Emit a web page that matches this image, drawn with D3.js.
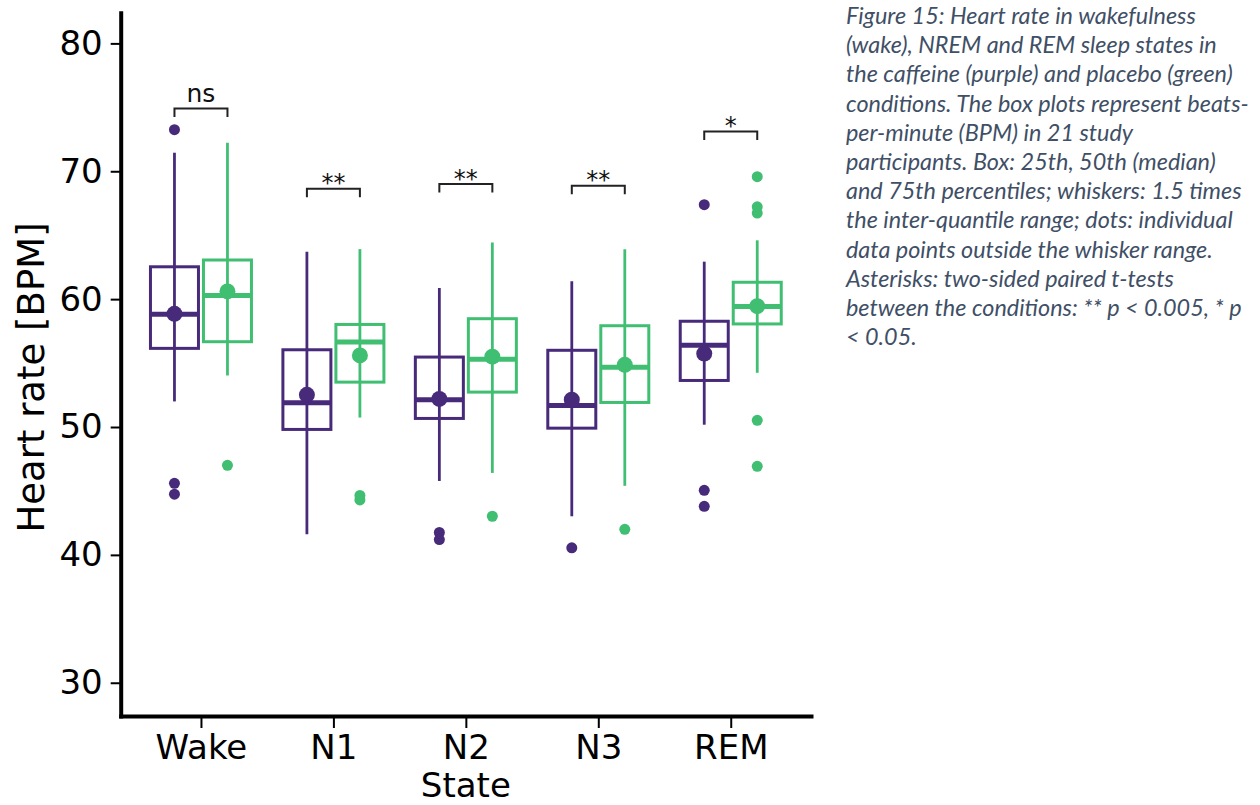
<!DOCTYPE html>
<html>
<head>
<meta charset="utf-8">
<script src="https://cdn.jsdelivr.net/npm/d3@7"></script>
<style>
  html, body { margin: 0; padding: 0; background: #fff; }
  svg { display: block; }
</style>
</head>
<body>
<svg id="chart" width="1260" height="805"></svg>
<script>
// Sleep / wake states on the x axis
const states = ["Wake", "N1", "N2", "N3", "REM"];

// Caffeine condition: box-plot statistics per state (BPM)
const caffeineQ1     = [56.15, 49.81, 50.67, 49.91, 53.64];
const caffeineMedian = [58.81, 51.90, 52.14, 51.69, 56.40];
const caffeineQ3     = [62.53, 56.04, 55.47, 56.00, 58.27];
const caffeineLow    = [52.00, 41.62, 45.78, 43.02, 50.18];
const caffeineHigh   = [71.45, 63.71, 60.87, 61.40, 62.93];
const caffeineMean   = [58.85, 52.52, 52.20, 52.13, 55.74];
const caffeineOutliers = [[73.25, 45.60, 44.75], [], [41.75, 41.20], [40.55], [67.39, 45.05, 43.80]];

// Placebo condition: box-plot statistics per state (BPM)
const placeboQ1     = [56.67, 53.51, 52.73, 51.92, 58.06];
const placeboMedian = [60.29, 56.64, 55.29, 54.68, 59.43];
const placeboQ3     = [63.06, 58.02, 58.47, 57.92, 61.32];
const placeboLow    = [54.03, 50.74, 46.41, 45.40, 54.24];
const placeboHigh   = [72.23, 63.91, 64.43, 63.90, 64.60];
const placeboMean   = [60.60, 55.60, 55.50, 54.86, 59.45];
const placeboOutliers = [[47.00], [44.30, 44.65], [43.02], [42.00], [69.58, 67.22, 66.73, 50.52, 46.93]];

// Paired t-test annotations: label and bracket height (BPM)
const sigLabels = ["ns", "**", "**", "**", "*"];
const sigLevels = [74.9, 68.63, 69.0, 68.86, 73.11];

const yTicks = [30, 40, 50, 60, 70, 80];

const captionLines = [
  "Figure 15: Heart rate in wakefulness",
  "(wake), NREM and REM sleep states in",
  "the caffeine (purple) and placebo (green)",
  "conditions. The box plots represent beats-",
  "per-minute (BPM) in 21 study",
  "participants. Box: 25th, 50th (median)",
  "and 75th percentiles; whiskers: 1.5 times",
  "the inter-quantile range; dots: individual",
  "data points outside the whisker range.",
  "Asterisks: two-sided paired t-tests",
  "between the conditions: ** p < 0.005, * p",
  "< 0.05."
];

const conditions = [
  { name: "caffeine", color: "#472a7a", offset: -26.5,
    q1: caffeineQ1, med: caffeineMedian, q3: caffeineQ3, lo: caffeineLow, hi: caffeineHigh,
    mean: caffeineMean, out: caffeineOutliers },
  { name: "placebo", color: "#40bf72", offset: 26.5,
    q1: placeboQ1, med: placeboMedian, q3: placeboQ3, lo: placeboLow, hi: placeboHigh,
    mean: placeboMean, out: placeboOutliers }
];

const svg = d3.select("#chart");
const font = "'DejaVu Sans', sans-serif";

const plotLeft = 120.7, plotRight = 811, plotTop = 12.7, plotBottom = 716;

const x = d3.scalePoint().domain(states).range([plotLeft, plotRight]).padding(0.606);
const y = d3.scaleLinear().domain([27.4, 82.4]).range([plotBottom, plotTop]);

const boxW = 48;

// Boxes, whiskers, medians, means and outliers
conditions.forEach(c => {
  const g = svg.append("g").attr("class", "cond-" + c.name);
  states.forEach((s, i) => {
    const cx = x(s) + c.offset;
    // whisker spans the full range, through the box
    g.append("line")
      .attr("x1", cx).attr("x2", cx)
      .attr("y1", y(c.lo[i])).attr("y2", y(c.hi[i]))
      .attr("stroke", c.color).attr("stroke-width", 2.8);
    g.append("rect")
      .attr("x", cx - boxW / 2).attr("width", boxW)
      .attr("y", y(c.q3[i])).attr("height", y(c.q1[i]) - y(c.q3[i]))
      .attr("fill", "none").attr("stroke", c.color).attr("stroke-width", 3);
    g.append("line")
      .attr("x1", cx - boxW / 2).attr("x2", cx + boxW / 2)
      .attr("y1", y(c.med[i])).attr("y2", y(c.med[i]))
      .attr("stroke", c.color).attr("stroke-width", 5);
    g.append("circle")
      .attr("cx", cx).attr("cy", y(c.mean[i])).attr("r", 8)
      .attr("fill", c.color);
    c.out[i].forEach(v => {
      g.append("circle")
        .attr("cx", cx).attr("cy", y(v)).attr("r", 5.5)
        .attr("fill", c.color);
    });
  });
});

// Significance brackets
const sig = svg.append("g").attr("class", "significance");
states.forEach((s, i) => {
  const x1 = x(s) + conditions[0].offset, x2 = x(s) + conditions[1].offset;
  const yt = y(sigLevels[i]);
  sig.append("path")
    .attr("d", `M${x1},${yt + 8.5}V${yt}H${x2}V${yt + 8.5}`)
    .attr("fill", "none").attr("stroke", "#222").attr("stroke-width", 2);
  const isNs = sigLabels[i] === "ns";
  sig.append("text")
    .attr("x", (x1 + x2) / 2)
    .attr("y", isNs ? yt - 6.5 : yt + 2.5)
    .attr("text-anchor", "middle")
    .attr("font-family", font)
    .attr("font-size", isNs ? 25 : 24)
    .attr("fill", "#111")
    .text(sigLabels[i]);
});

// Axes
const yAxis = svg.append("g")
  .attr("transform", `translate(${plotLeft},0)`)
  .call(d3.axisLeft(y).tickValues(yTicks).tickSize(10).tickSizeOuter(0).tickPadding(8));
const xAxis = svg.append("g")
  .attr("transform", `translate(0,${plotBottom})`)
  .call(d3.axisBottom(x).tickSize(12).tickSizeOuter(0).tickPadding(7));

[yAxis, xAxis].forEach(a => {
  a.select(".domain").attr("stroke", "#000").attr("stroke-width", 4).attr("stroke-linecap", "square");
  a.selectAll(".tick line").attr("stroke", "#000").attr("stroke-width", 2);
  a.selectAll(".tick text").attr("fill", "#000")
    .attr("font-family", font).attr("font-size", 34);
});

// Axis titles
svg.append("text")
  .attr("transform", `translate(44,${(207 + 548) / 2}) rotate(-90)`)
  .attr("text-anchor", "middle")
  .attr("font-family", font).attr("font-size", 37).attr("fill", "#000")
  .text("Heart rate [BPM]");
svg.append("text")
  .attr("x", x("N2")).attr("y", 797)
  .attr("text-anchor", "middle")
  .attr("font-family", font).attr("font-size", 34).attr("fill", "#000")
  .text("State");

// Figure caption
const cap = svg.append("g").attr("class", "caption");
const capLines = cap.selectAll("text").data(captionLines).join("text")
  .attr("x", 846)
  .attr("y", (d, i) => 24 + i * 29.2)
  .attr("font-family", "Lato, 'Open Sans', sans-serif")
  .attr("font-style", "italic")
  .attr("font-size", 22)
  .attr("fill", "#3f4f66")
  .text(d => d);
// fit the widest line to the caption column
const widest = capLines.nodes()[3].getComputedTextLength();
capLines.attr("font-size", 22 * 403 / widest);
</script>
</body>
</html>
